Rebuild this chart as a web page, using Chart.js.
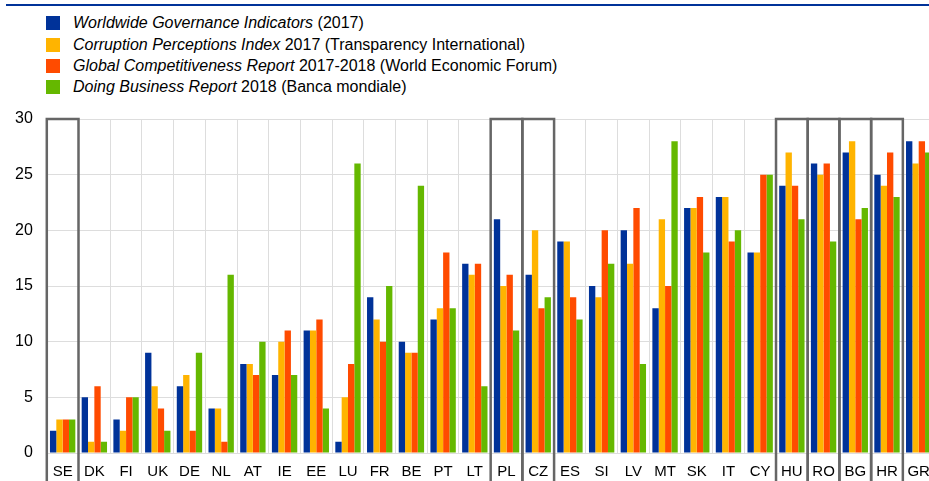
<!DOCTYPE html>
<html>
<head>
<meta charset="utf-8">
<script src="https://cdn.jsdelivr.net/npm/chart.js@4/dist/chart.umd.min.js"></script>
<style>
  body { margin: 0; background: #fff; font-family: "Liberation Sans", Arial, sans-serif; }
  #wrap { position: relative; width: 929px; height: 481px; overflow: hidden; }
  #topline { position: absolute; left: 6px; right: 0; top: 4px; height: 2px; background: #003299; }
  #legend { position: absolute; left: 0; top: 0; font-size: 16px; color: #000; }
  .row { position: absolute; left: 46px; white-space: nowrap; height: 14px; }
  .sq { position: absolute; left: 0; top: 0; width: 14px; height: 14px; }
  .txt { position: absolute; left: 27px; top: -2px; line-height: 18px; }
  canvas { position: absolute; left: 0; top: 0; }
</style>
</head>
<body>
<div id="wrap">
  <div id="topline"></div>
  <div id="legend"></div>
  <canvas id="chart" width="940" height="491"></canvas>
</div>
<script>
const countries = ['SE', 'DK', 'FI', 'UK', 'DE', 'NL', 'AT', 'IE', 'EE', 'LU', 'FR', 'BE', 'PT', 'LT',
  'PL', 'CZ', 'ES', 'SI', 'LV', 'MT', 'SK', 'IT', 'CY', 'HU', 'RO', 'BG', 'HR', 'GR'];

const wgi = [2, 5, 3, 9, 6, 4, 8, 7, 11, 1, 14, 10, 12, 17, 21, 16, 19, 15, 20, 13, 22, 23, 18, 24, 26, 27, 25, 28];
const cpi = [3, 1, 2, 6, 7, 4, 8, 10, 11, 5, 12, 9, 13, 16, 15, 20, 19, 14, 17, 21, 22, 23, 18, 27, 25, 28, 24, 26];
const gcr = [3, 6, 5, 4, 2, 1, 7, 11, 12, 8, 10, 9, 18, 17, 16, 13, 14, 20, 22, 15, 23, 19, 25, 24, 26, 21, 27, 28];
const dbr = [3, 1, 5, 2, 9, 16, 10, 7, 4, 26, 15, 24, 13, 6, 11, 14, 12, 17, 8, 28, 18, 20, 25, 21, 19, 22, 23, 27];

const yTicks = [0, 5, 10, 15, 20, 25, 30];

// countries framed with a box
const boxed = ['SE', 'PL', 'CZ', 'HU', 'RO', 'BG', 'HR'];

const series = [
  { italic: 'Worldwide Governance Indicators', rest: ' (2017)', color: '#003299', data: wgi },
  { italic: 'Corruption Perceptions Index', rest: ' 2017 (Transparency International)', color: '#FFB400', data: cpi },
  { italic: 'Global Competitiveness Report', rest: ' 2017-2018 (World Economic Forum)', color: '#FF4B00', data: gcr },
  { italic: 'Doing Business Report', rest: ' 2018 (Banca mondiale)', color: '#65B800', data: dbr }
];

// html legend, mixed italic / upright text
const legendTops = [16, 38, 59, 80];
const legend = document.getElementById('legend');
series.forEach((s, i) => {
  const row = document.createElement('div');
  row.className = 'row';
  row.style.top = legendTops[i] + 'px';
  row.innerHTML = '<div class="sq" style="background:' + s.color + '"></div>' +
    '<div class="txt"><i>' + s.italic + '</i>' + s.rest + '</div>';
  legend.appendChild(row);
});

const boxPlugin = {
  id: 'boxes',
  afterDatasetsDraw(chart) {
    const x = chart.scales.x;
    const ctx = chart.ctx;
    const w = x.getPixelForValue(1) - x.getPixelForValue(0);
    ctx.save();
    ctx.strokeStyle = '#666666';
    ctx.lineWidth = 2.5;
    boxed.forEach((c) => {
      const i = countries.indexOf(c);
      const left = x.getPixelForValue(i) - w / 2;
      ctx.beginPath();
      ctx.moveTo(left, chart.height + 5);
      ctx.lineTo(left, chart.chartArea.top);
      ctx.lineTo(left + w, chart.chartArea.top);
      ctx.lineTo(left + w, chart.height + 5);
      ctx.stroke();
    });
    ctx.restore();
  }
};

new Chart(document.getElementById('chart'), {
  type: 'bar',
  data: {
    labels: countries,
    datasets: series.map((s) => ({
      label: s.italic + s.rest,
      data: s.data,
      backgroundColor: s.color,
      borderWidth: 0,
      categoryPercentage: 0.8,
      barPercentage: 1.0
    }))
  },
  options: {
    responsive: false,
    animation: false,
    layout: { padding: { left: 1, top: 119, right: 3, bottom: 0 } },
    plugins: {
      legend: { display: false },
      tooltip: { enabled: false }
    },
    scales: {
      x: {
        grid: { color: '#dddddd', drawTicks: false },
        border: { color: '#dddddd' },
        ticks: {
          color: '#000',
          padding: 10,
          font: { family: '"Liberation Sans", Arial', size: 15 }
        }
      },
      y: {
        min: 0,
        max: 30,
        afterBuildTicks: (axis) => { axis.ticks = yTicks.map((v) => ({ value: v })); },
        grid: { color: '#dddddd', drawTicks: false },
        border: { display: false },
        ticks: {
          color: '#000',
          padding: 14,
          font: { family: '"Liberation Sans", Arial', size: 16 }
        }
      }
    }
  },
  plugins: [boxPlugin]
});
</script>
</body>
</html>
